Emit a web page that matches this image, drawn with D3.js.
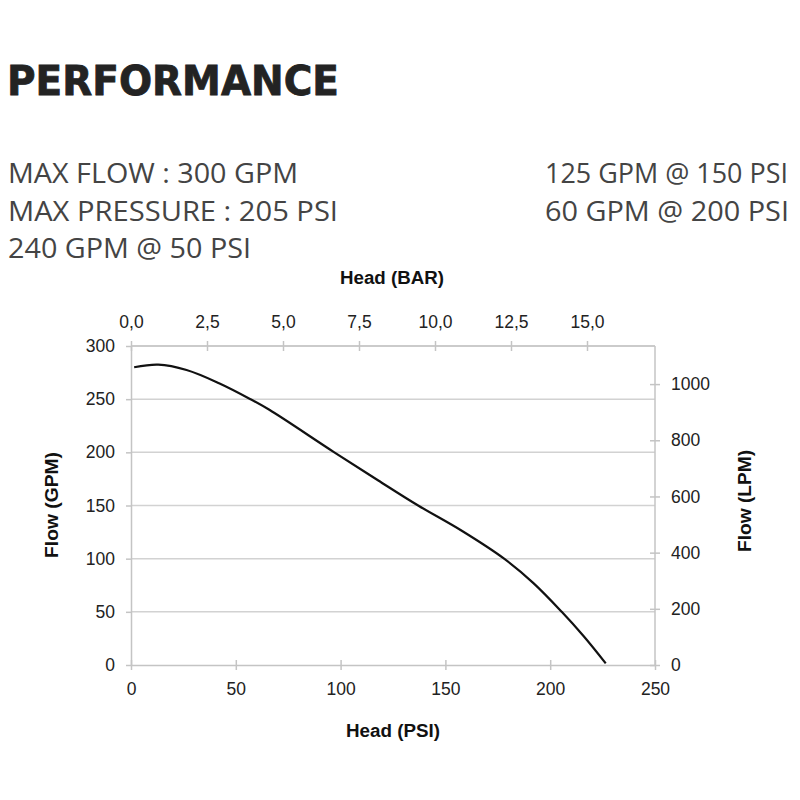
<!DOCTYPE html>
<html>
<head>
<meta charset="utf-8">
<script src="https://cdn.jsdelivr.net/npm/d3@7"></script>
<style>
  body { margin: 0; background: #fff; }
  svg { display: block; }
</style>
</head>
<body>
<svg id="chart" width="800" height="800"></svg>
<script>
// ---- data ----
const headPSI = [1.5, 13, 26.5, 42, 57, 66, 97, 118, 137, 158, 178, 192, 205.5, 216, 226.5];
const flowGPM = [280, 282.4, 277.4, 265, 250, 240, 200, 173.5, 150, 126, 100, 77, 50, 27, 1.5];
const psiTicks = [0, 50, 100, 150, 200, 250];
const gpmTicks = [0, 50, 100, 150, 200, 250, 300];
const barTicks = [0, 2.5, 5, 7.5, 10, 12.5, 15];
const lpmTicks = [0, 200, 400, 600, 800, 1000];
const titleText = "PERFORMANCE";
const specsLeft = ["MAX FLOW : 300 GPM", "MAX PRESSURE : 205 PSI", "240 GPM @ 50 PSI"];
const specsRight = ["125 GPM @ 150 PSI", "60 GPM @ 200 PSI"];
const PSI_PER_BAR = 14.5038;
const LPM_PER_GPM = 3.78541;

const svg = d3.select("#chart");
const L = 131, R = 655, T = 346, B = 665;

const x = d3.scaleLinear().domain([0, 250]).range([L, R]);
const y = d3.scaleLinear().domain([0, 300]).range([B, T]);
const xBar = d3.scaleLinear().domain([0, 250 / PSI_PER_BAR]).range([L, R]);
const yL = d3.scaleLinear().domain([0, 300 * LPM_PER_GPM]).range([B, T]);

// ---- header text ----
svg.append("text").attr("x", 7).attr("y", 95)
  .attr("font-family", "DejaVu Sans").attr("font-weight", "bold").attr("font-size", 40)
  .attr("fill", "#232323").attr("stroke", "#232323").attr("stroke-width", 0.8)
  .attr("textLength", 332).attr("lengthAdjust", "spacingAndGlyphs")
  .text(titleText);

const leftW = [290, 330, 243];
const rightW = [243, 244];
const baseL = [183, 221, 258];
specsLeft.forEach((t, i) => {
  svg.append("text").attr("x", 8).attr("y", baseL[i])
    .attr("font-family", "Open Sans").attr("font-size", 27).attr("fill", "#444")
    .attr("textLength", leftW[i]).attr("lengthAdjust", "spacingAndGlyphs").text(t);
});
specsRight.forEach((t, i) => {
  svg.append("text").attr("x", 545).attr("y", baseL[i])
    .attr("font-family", "Open Sans").attr("font-size", 27).attr("fill", "#444")
    .attr("textLength", rightW[i]).attr("lengthAdjust", "spacingAndGlyphs").text(t);
});

// ---- grid ----
const gridC = "#d2d2d2", axisC = "#c4c4c4";
svg.append("g").selectAll("line").data(gpmTicks.filter(d => d > 0)).join("line")
  .attr("x1", L).attr("x2", R).attr("y1", d => y(d)).attr("y2", d => y(d))
  .attr("stroke", gridC).attr("stroke-width", 1.5);

// frame top & right
svg.append("line").attr("x1", L).attr("x2", R).attr("y1", T).attr("y2", T).attr("stroke", axisC).attr("stroke-width", 1.5);
svg.append("line").attr("x1", R).attr("x2", R).attr("y1", T).attr("y2", B).attr("stroke", axisC).attr("stroke-width", 1.5);

function styleAxis(g, crossA, crossB, horizontal) {
  g.select(".domain").attr("stroke", axisC).attr("stroke-width", 1.5);
  g.selectAll(".tick line").attr("stroke", axisC).attr("stroke-width", 1.5);
  if (horizontal) g.selectAll(".tick line").attr("y1", crossA).attr("y2", crossB);
  else g.selectAll(".tick line").attr("x1", crossA).attr("x2", crossB);
  g.selectAll(".tick text").attr("font-family", "Liberation Sans, Arial, sans-serif")
    .attr("font-size", 17.5).attr("fill", "#222");
}

// bottom PSI axis
const gx = svg.append("g").attr("transform", `translate(0,${B})`)
  .call(d3.axisBottom(x).tickValues(psiTicks).tickSizeOuter(0).tickPadding(12));
styleAxis(gx, -5, 5, true);

// top BAR axis
const commaFmt = d => d3.format(".1f")(d).replace(".", ",");
const gt = svg.append("g").attr("transform", `translate(0,${T})`)
  .call(d3.axisTop(xBar).tickValues(barTicks).tickFormat(commaFmt).tickSizeOuter(0).tickPadding(12));
styleAxis(gt, -5, 5, true);
gt.select(".domain").remove();

// left GPM axis
const gy = svg.append("g").attr("transform", `translate(${L},0)`)
  .call(d3.axisLeft(y).tickValues(gpmTicks).tickSizeOuter(0).tickPadding(10));
styleAxis(gy, -5, 0, false);

// right LPM axis
const gr = svg.append("g").attr("transform", `translate(${R},0)`)
  .call(d3.axisRight(yL).tickValues(lpmTicks).tickFormat(d3.format("d")).tickSizeOuter(0).tickPadding(10));
styleAxis(gr, -5, 5, false);
gr.select(".domain").remove();

// ---- curve ----
const line = d3.line().x(d => x(d[0])).y(d => y(d[1])).curve(d3.curveCatmullRom.alpha(0.5));
svg.append("path").datum(headPSI.map((h, i) => [h, flowGPM[i]]))
  .attr("d", line).attr("fill", "none").attr("stroke", "#111").attr("stroke-width", 2.2);

// ---- axis titles ----
const tf = "Liberation Sans, Arial, sans-serif";
svg.append("text").attr("x", 392).attr("y", 284).attr("text-anchor", "middle")
  .attr("font-family", tf).attr("font-weight", "bold").attr("font-size", 17.5).attr("fill", "#111")
  .attr("textLength", 104).attr("lengthAdjust", "spacingAndGlyphs").text("Head (BAR)");
svg.append("text").attr("x", 393).attr("y", 737).attr("text-anchor", "middle")
  .attr("font-family", tf).attr("font-weight", "bold").attr("font-size", 17.5).attr("fill", "#111")
  .attr("textLength", 94).attr("lengthAdjust", "spacingAndGlyphs").text("Head (PSI)");
svg.append("text").attr("transform", "translate(58,505) rotate(-90)").attr("text-anchor", "middle")
  .attr("font-family", tf).attr("font-weight", "bold").attr("font-size", 17.5).attr("fill", "#111")
  .attr("textLength", 106).attr("lengthAdjust", "spacingAndGlyphs").text("Flow (GPM)");
svg.append("text").attr("transform", "translate(751,501) rotate(-90)").attr("text-anchor", "middle")
  .attr("font-family", tf).attr("font-weight", "bold").attr("font-size", 17.5).attr("fill", "#111")
  .attr("textLength", 102).attr("lengthAdjust", "spacingAndGlyphs").text("Flow (LPM)");
</script>
</body>
</html>
